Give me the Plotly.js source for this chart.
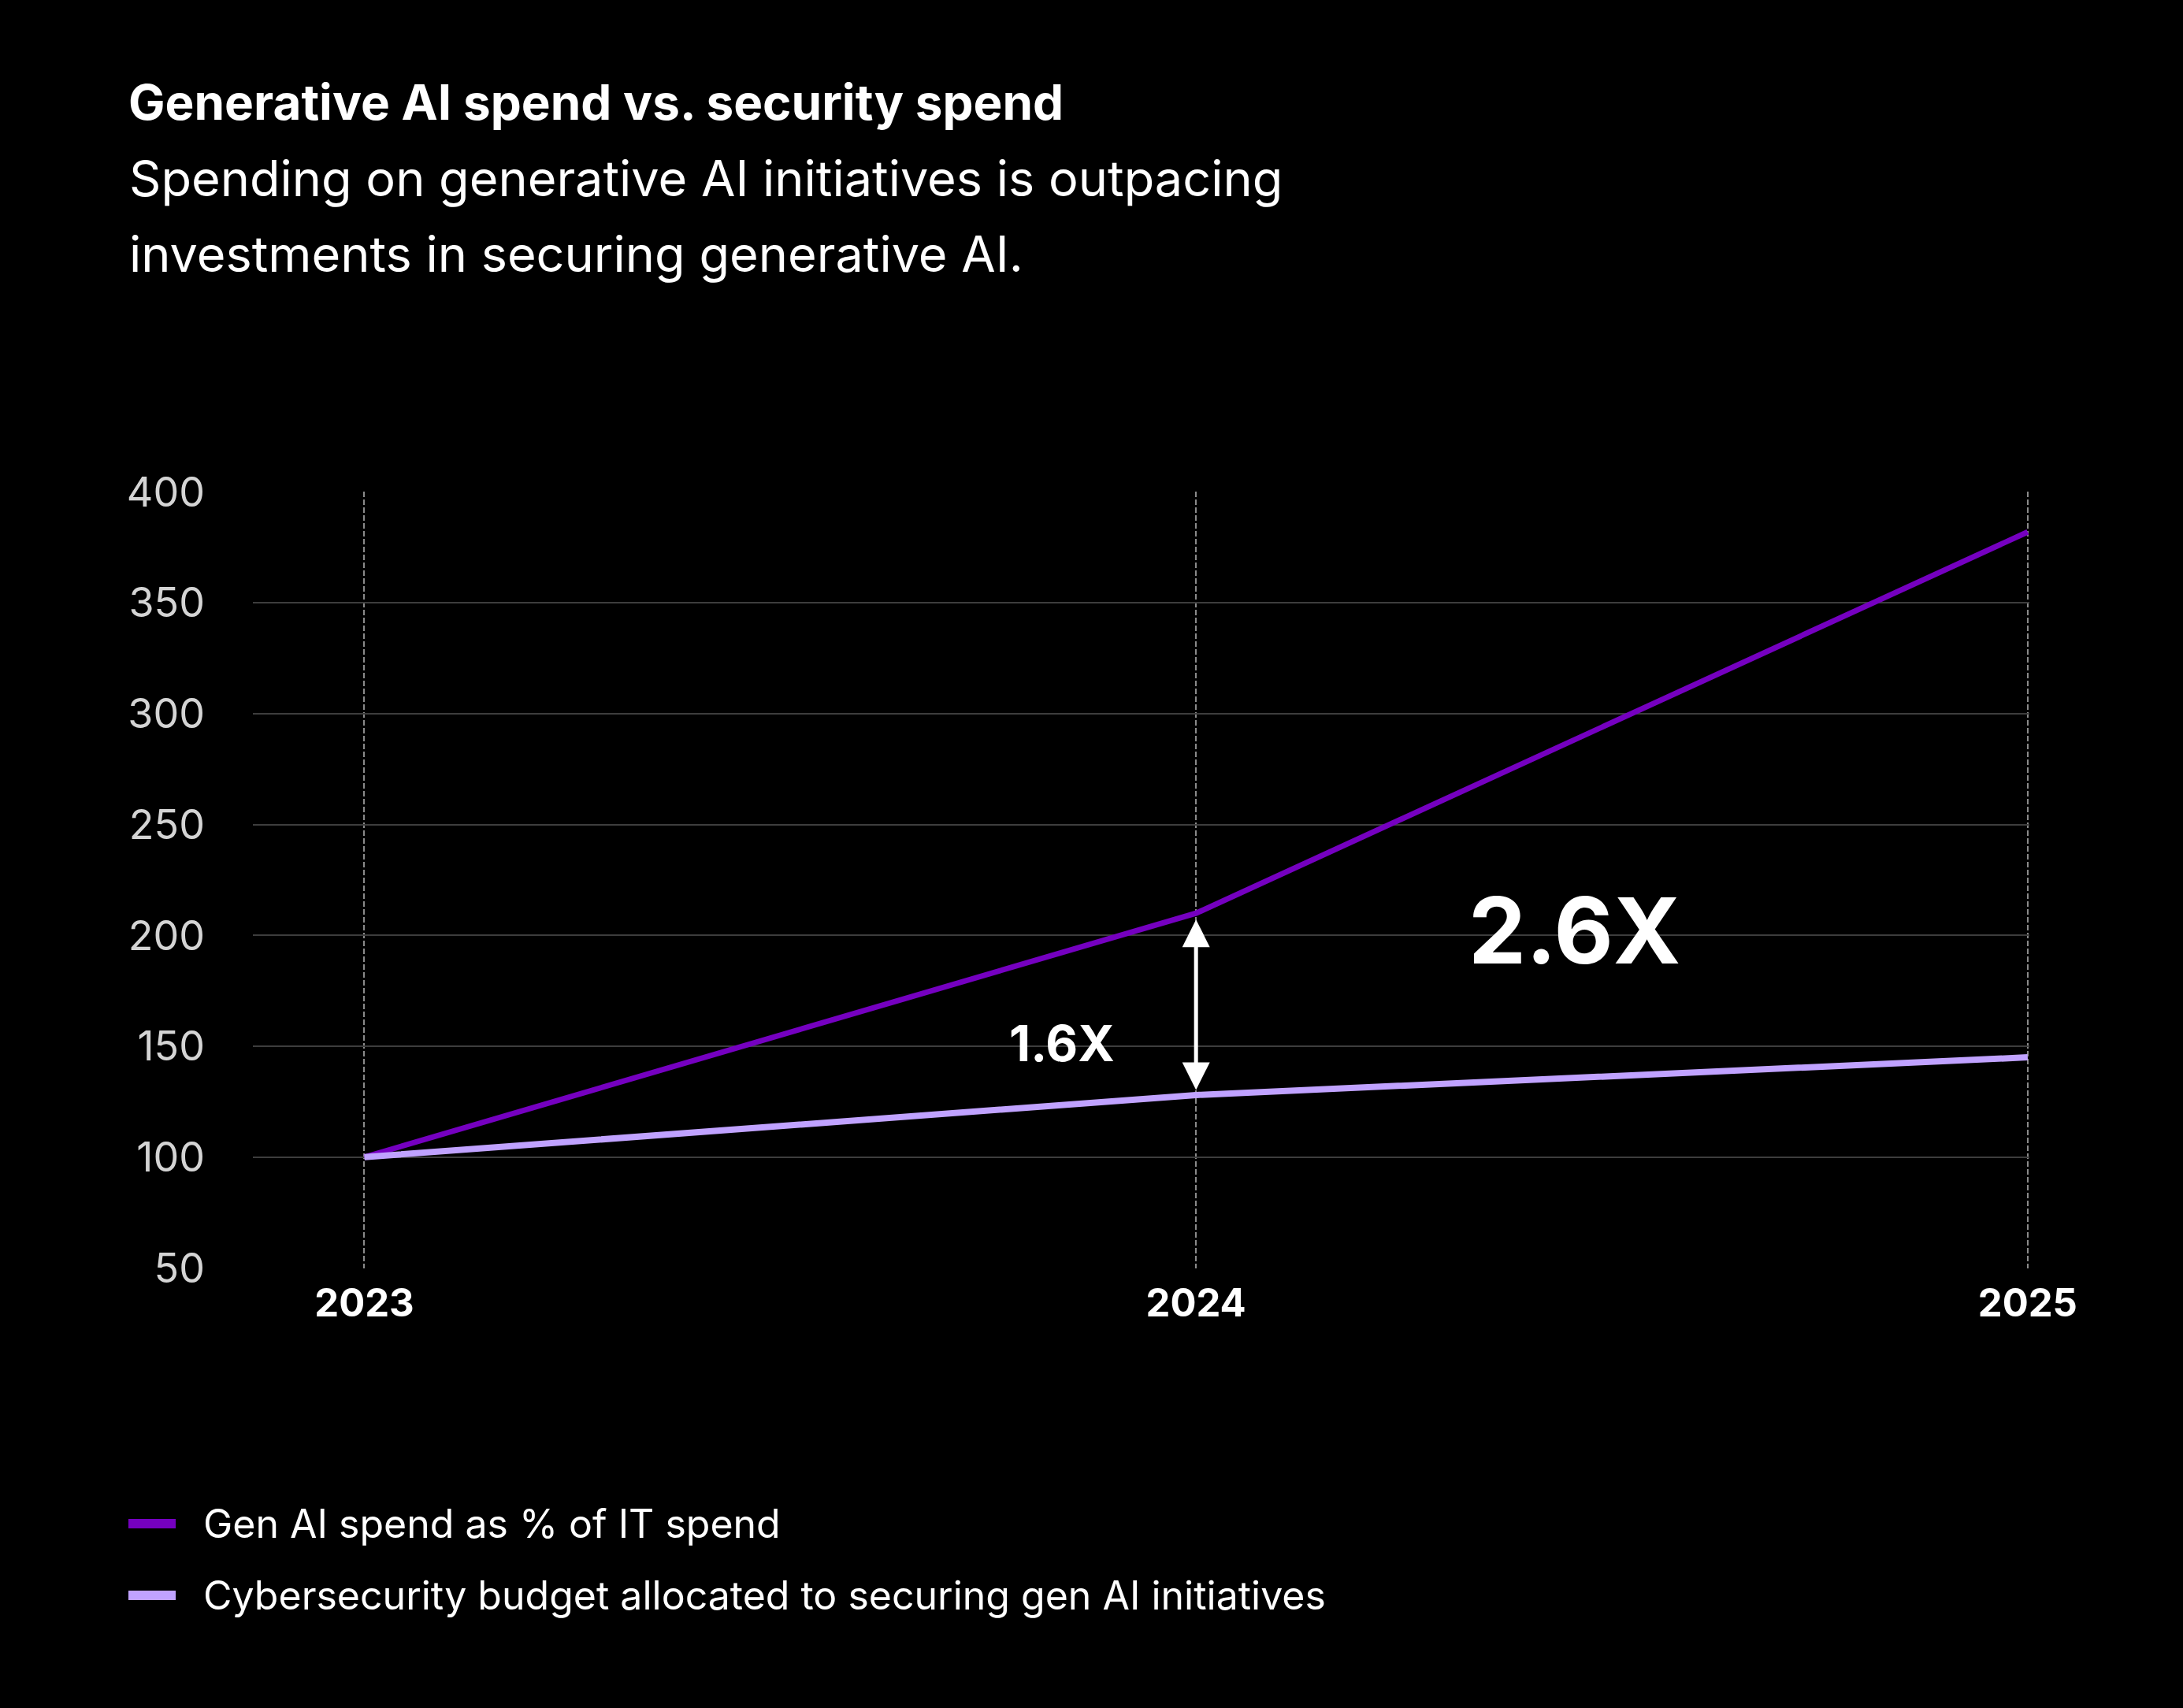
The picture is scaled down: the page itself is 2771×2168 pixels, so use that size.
<!DOCTYPE html>
<html>
<head>
<meta charset="utf-8">
<script src="https://cdn.plot.ly/plotly-3.0.1.min.js"></script>
<style>
  html, body { margin: 0; padding: 0; background: #000; }
  #chart { width: 2771px; height: 2168px; }
</style>
</head>
<body>
<div id="chart"></div>
<script>
// Indexed spend, 2023 = 100
const years = [2023, 2024, 2025];
const yearLabels = ['2023', '2024', '2025'];
const genAISpend = [100, 210, 382];
const securitySpend = [100, 128, 145];
const yTicks = [50, 100, 150, 200, 250, 300, 350, 400];
const seriesNames = [
  'Gen AI spend as % of IT spend',
  'Cybersecurity budget allocated to securing gen AI initiatives'
];
const multipleLabels = ['1.6X', '2.6X'];

const titleText = 'Generative AI spend vs. security spend';
const subtitleLines = [
  'Spending on generative AI initiatives is outpacing',
  'investments in securing generative AI.'
];

const FONT = 'Inter, "Open Sans", sans-serif';
const COLORS = ['#7500C0', '#C0A2FF'];
const LINE_WIDTHS = [7, 8];

// page geometry (pixels)
const W = 2771, H = 2168;
const M = { l: 321, r: 195, t: 624, b: 558 };
const PW = W - M.l - M.r, PH = H - M.t - M.b;
const px = (x) => (x - M.l) / PW;          // page x -> paper x
const py = (y) => (H - M.b - y) / PH;      // page y -> paper y

const traces = [genAISpend, securitySpend].map((vals, i) => ({
  x: years, y: vals, name: seriesNames[i],
  type: 'scatter', mode: 'lines',
  line: { color: COLORS[i], width: LINE_WIDTHS[i] },
  hoverinfo: 'skip', showlegend: false
}));

// key below the chart: swatch line + label per series
const legendRows = [1934, 2025];
const legendShapes = seriesNames.map((n, i) => ({
  type: 'line', xref: 'paper', yref: 'paper',
  x0: px(163), x1: px(223), y0: py(legendRows[i]), y1: py(legendRows[i]),
  line: { color: COLORS[i], width: 12 }
}));
const legendLabels = seriesNames.map((n, i) => ({
  xref: 'paper', yref: 'paper',
  x: px(256), xanchor: 'left',
  y: py(legendRows[i]), yanchor: 'middle',
  text: n, showarrow: false,
  font: { family: FONT, size: 50, color: '#fff' }
}));

const subtitleRows = [226, 322];
const subtitleAnns = subtitleLines.map((t, i) => ({
  xref: 'paper', yref: 'paper',
  x: px(162), xanchor: 'left',
  y: py(subtitleRows[i]), yanchor: 'middle',
  text: t, showarrow: false,
  font: { family: FONT, size: 63, color: '#fff' }
}));

const layout = {
  width: W,
  height: H,
  paper_bgcolor: '#000',
  plot_bgcolor: '#000',
  margin: { l: M.l, r: M.r, t: M.t, b: M.b, autoexpand: false },
  font: { family: FONT, color: '#fff' },
  showlegend: false,
  title: {
    text: titleText,
    xref: 'container', yref: 'container',
    x: 163 / W, xanchor: 'left',
    y: 1 - 130 / H, yanchor: 'middle',
    font: { family: FONT, size: 62, color: '#fff', weight: 700 }
  },
  xaxis: {
    range: [2022.866, 2025.002],
    tickvals: years,
    ticktext: yearLabels,
    showgrid: true,
    gridcolor: '#8a8a8a',
    gridwidth: 2,
    griddash: '7px,3px',
    zeroline: false,
    showline: false,
    ticks: '',
    ticklabelstandoff: 11,
    tickfont: { family: FONT, size: 49, color: '#fff', weight: 700 },
    fixedrange: true
  },
  yaxis: {
    range: [49.8, 400.2],
    tickvals: yTicks,
    showgrid: true,
    gridcolor: '#3d3d3d',
    gridwidth: 2,
    zeroline: false,
    showline: false,
    ticks: '',
    ticklabelstandoff: 60,
    tickfont: { family: FONT, size: 52, color: '#d4d4d4' },
    fixedrange: true
  },
  shapes: legendShapes,
  annotations: [
    ...subtitleAnns,
    {
      // double-headed arrow marking the 2024 gap
      x: years[1], y: genAISpend[1],
      ax: years[1], ay: securitySpend[1],
      xref: 'x', yref: 'y', axref: 'x', ayref: 'y',
      text: '', showarrow: true,
      arrowside: 'end+start',
      arrowhead: 2, startarrowhead: 2,
      arrowwidth: 5, arrowsize: 1.4, startarrowsize: 1.4,
      arrowcolor: '#fff',
      standoff: 8, startstandoff: 5
    },
    {
      x: 2023.839, y: 151.4, xref: 'x', yref: 'y',
      text: multipleLabels[0], showarrow: false,
      xanchor: 'center', yanchor: 'middle',
      font: { family: FONT, size: 63, color: '#fff', weight: 700 }
    },
    {
      x: 2024.455, y: 202.3, xref: 'x', yref: 'y',
      text: multipleLabels[1], showarrow: false,
      xanchor: 'center', yanchor: 'middle',
      font: { family: FONT, size: 116, color: '#fff', weight: 700 }
    },
    ...legendLabels
  ]
};

Plotly.newPlot('chart', traces, layout, { staticPlot: true, displayModeBar: false });
</script>
</body>
</html>
